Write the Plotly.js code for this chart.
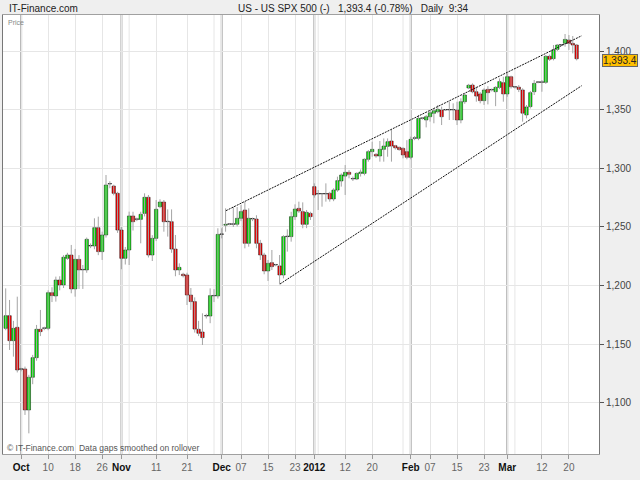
<!DOCTYPE html>
<html>
<head>
<meta charset="utf-8">
<script src="https://cdn.plot.ly/plotly-3.0.1.min.js"></script>
<style>
  html, body { margin: 0; padding: 0; background: #efefef; }
  #chart { width: 640px; height: 480px; }
</style>
</head>
<body>
<div id="chart"></div>
<script>
// Daily bars (Sep 27 2011 .. Mar 22 2012, incl. short Sunday sessions)
const openP = [
1163.6,1174.4,1153.1,1164.5,1128.7,1129.0,1094.0,1121.9,1138.6,1162.8,
1163.6,1163.6,1194.0,1191.2,1204.8,1200.6,1223.3,1226.1,1197.2,1222.4,
1213.4,1213.4,1233.8,1233.8,1249.4,1229.0,1243.2,1286.6,1284.9,1278.7,
1247.4,1223.3,1230.4,1259.4,1256.5,1256.5,1261.6,1275.3,1226.1,1240.3,
1267.3,1271.3,1254.5,1254.5,1231.2,1213.4,1209.7,1209.1,1192.0,1186.4,
1162.8,1160.5,1174.1,1174.1,1191.2,1191.2,1243.7,1251.5,1252.3,1252.3,
1252.3,1257.4,1264.5,1236.1,1256.8,1256.8,1236.1,1226.1,1212.5,1219.6,
1217.6,1216.8,1209.1,1241.8,1241.8,1258.8,1265.9,1263.1,1252.3,1261.6,
1284.4,1278.1,1278.1,1278.1,1278.7,1273.9,1281.5,1289.2,1293.4,1296.6,
1290.9,1290.9,1295.7,1295.7,1307.7,1314.2,1311.9,1310.5,1316.2,1318.7,
1323.3,1319.3,1317.9,1317.0,1314.2,1309.4,1325.6,1325.6,1342.6,1341.2,
1344.0,1346.9,1348.3,1349.7,1349.7,1349.7,1349.7,1349.7,1341.2,1356.8,
1368.5,1371.0,1365.3,1363.4,1357.7,1367.3,1366.8,1365.3,1369.0,1373.0,
1363.4,1378.1,1369.2,1369.2,1366.8,1345.5,1352.6,1365.3,1373.3,1373.3,
1373.3,1395.5,1393.5,1401.4,1405.1,1406.5,1409.4,1406.5,1405.1
];
const highP = [
1197.7,1187.8,1170.0,1190.6,1130.0,1131.0,1124.0,1141.0,1166.5,1179.3,
1165.0,1196.0,1198.6,1207.7,1208.0,1226.0,1228.0,1234.7,1231.3,1226.0,
1217.6,1241.0,1236.0,1257.4,1258.8,1246.0,1294.3,1289.0,1286.0,1280.0,
1250.0,1233.0,1263.1,1263.0,1258.0,1263.0,1278.7,1277.3,1243.0,1273.0,
1273.6,1273.0,1265.0,1265.0,1243.2,1219.0,1211.0,1211.0,1198.0,1190.0,
1170.0,1176.4,1176.0,1197.7,1197.0,1248.9,1248.9,1265.9,1253.0,1267.3,
1267.0,1268.7,1271.6,1265.9,1258.0,1260.0,1239.0,1228.0,1221.9,1230.4,
1218.5,1226.1,1243.0,1248.0,1263.0,1269.3,1271.6,1271.0,1264.5,1263.0,
1287.2,1281.5,1278.8,1287.2,1280.0,1283.0,1292.9,1295.7,1302.8,1298.5,
1293.0,1296.6,1299.0,1308.5,1315.6,1322.7,1313.0,1323.3,1325.5,1325.5,
1332.7,1320.0,1318.5,1318.0,1324.0,1327.0,1327.5,1345.5,1343.5,1345.5,
1349.7,1351.1,1354.0,1352.6,1350.5,1356.8,1355.4,1356.8,1359.7,1363.5,
1372.0,1372.4,1369.6,1365.0,1368.2,1370.0,1368.0,1370.0,1376.7,1378.1,
1381.0,1379.0,1370.0,1371.0,1368.2,1354.0,1366.0,1375.3,1374.0,1375.3,
1396.5,1397.0,1405.1,1406.0,1406.0,1414.5,1413.6,1412.8,1406.0
];
const lowP = [
1162.0,1145.2,1139.5,1126.0,1127.0,1089.8,1074.1,1116.0,1136.0,1157.0,
1162.0,1162.0,1186.0,1186.4,1196.0,1198.0,1222.0,1193.5,1190.6,1197.2,
1197.2,1211.0,1232.0,1231.0,1226.0,1221.9,1241.0,1283.0,1277.0,1245.0,
1214.0,1218.0,1217.6,1247.0,1255.0,1236.1,1259.0,1224.0,1221.0,1238.0,
1266.0,1246.0,1241.8,1228.0,1208.0,1209.0,1207.0,1183.5,1179.3,1160.0,
1157.0,1149.4,1172.0,1168.0,1186.0,1189.0,1240.3,1246.0,1251.5,1250.0,
1250.5,1255.0,1231.8,1233.2,1255.0,1231.8,1221.9,1209.7,1204.0,1213.3,
1216.5,1201.1,1206.2,1229.0,1237.5,1256.0,1262.0,1248.9,1249.0,1256.0,
1275.0,1264.5,1267.3,1271.6,1271.6,1272.0,1280.0,1284.4,1277.3,1291.5,
1289.2,1290.0,1293.0,1294.0,1305.7,1309.9,1309.0,1305.7,1305.7,1309.9,
1305.7,1316.0,1315.0,1308.5,1307.7,1307.7,1324.0,1324.0,1341.5,1334.9,
1339.8,1338.4,1347.0,1336.9,1349.0,1341.2,1341.2,1336.9,1338.4,1355.0,
1367.5,1364.0,1356.8,1355.4,1354.0,1354.5,1365.5,1353.0,1367.5,1356.8,
1361.0,1368.0,1368.0,1365.0,1339.8,1342.6,1351.0,1362.5,1372.5,1365.3,
1372.0,1391.5,1392.0,1400.0,1404.5,1403.7,1400.9,1398.0,1392.0
];
const closeP = [
1174.4,1153.1,1163.6,1128.1,1128.7,1094.0,1121.9,1138.6,1162.8,1160.8,
1163.6,1194.0,1191.5,1204.8,1200.6,1224.2,1226.1,1197.2,1222.4,1213.4,
1213.4,1239.5,1233.8,1249.4,1229.0,1243.2,1285.8,1286.6,1278.7,1247.4,
1223.3,1230.4,1259.4,1254.5,1256.5,1260.8,1275.3,1226.1,1240.3,1265.1,
1271.3,1254.5,1254.5,1231.2,1213.4,1215.6,1208.5,1192.0,1186.4,1163.0,
1159.4,1155.7,1174.1,1191.5,1191.2,1243.7,1243.7,1252.3,1252.3,1252.3,
1257.4,1263.1,1236.1,1257.4,1256.8,1236.1,1226.1,1212.5,1219.0,1216.2,
1217.6,1209.1,1241.8,1241.8,1258.8,1265.3,1263.6,1252.3,1262.5,1258.8,
1277.3,1278.1,1278.1,1278.1,1273.9,1281.5,1289.5,1294.3,1296.6,1294.9,
1290.9,1295.7,1296.8,1307.7,1314.2,1316.2,1310.5,1316.2,1319.0,1322.7,
1319.0,1317.5,1316.0,1311.4,1309.4,1324.7,1325.6,1342.6,1342.6,1344.0,
1347.4,1349.1,1350.3,1344.0,1349.7,1349.7,1349.7,1341.2,1356.8,1362.5,
1370.8,1365.3,1361.6,1357.7,1366.8,1364.5,1366.8,1369.0,1373.9,1363.4,
1378.1,1369.6,1369.2,1367.3,1347.0,1352.3,1364.5,1372.4,1373.3,1373.3,
1395.5,1393.0,1401.0,1405.1,1405.1,1409.9,1406.5,1405.1,1393.4
];

// x-axis labels (bar index of the labelled day)
const monthTickIdx  = [4, 30, 56, 80, 105, 130];
const monthTickText = ['Oct', 'Nov', 'Dec', '2012', 'Feb', 'Mar'];
const dayTickIdx    = [11, 18, 25, 39, 47, 61, 68, 75, 88, 95, 110, 117, 124, 139, 146];
const dayTickText   = ['10', '18', '26', '11', '21', '07', '15', '23', '12', '20', '07', '15', '23', '12', '20'];
const extraGridIdx  = [32, 54, 81, 103, 132];

// y-axis ticks
const yTickVals = [1100, 1150, 1200, 1250, 1300, 1350, 1400];
const yTickText = ['1,100', '1,150', '1,200', '1,250', '1,300', '1,350', '1,400'];

// channel trend lines (bar index, price)
const upperLineX = [57.1, 149.3];
const upperLineY = [1263.9, 1413.0];
const lowerLineX = [71.1, 149.3];
const lowerLineY = [1201.4, 1370.4];

const lastPrice = 1393.4;

// ---- build traces ----
const idx = openP.map((_, i) => i);
const wickX = [], wickY = [];
idx.forEach(i => { wickX.push(i, i, null); wickY.push(lowP[i], highP[i], null); });
const bodyBase = idx.map(i => Math.min(openP[i], closeP[i]));
// a flat (doji) body is still drawn as a thin black bar
const bodySize = idx.map(i => Math.max(Math.abs(closeP[i] - openP[i]), 0.45));
const bodyColor = idx.map(i => closeP[i] > openP[i] ? '#00f000' : (closeP[i] < openP[i] ? '#ff0000' : '#000000'));

const traces = [
  { type: 'scatter', mode: 'lines', x: wickX, y: wickY,
    line: { color: '#a4a4a4', width: 1 }, hoverinfo: 'skip', showlegend: false },
  { type: 'bar', x: idx, y: bodySize, base: bodyBase, width: 0.88,
    marker: { color: bodyColor, line: { color: '#111111', width: 0.5 } },
    showlegend: false, hoverinfo: 'skip' },
  { type: 'scatter', mode: 'lines', x: upperLineX, y: upperLineY,
    line: { color: '#111', width: 1, dash: '2px,1px' }, hoverinfo: 'skip', showlegend: false },
  { type: 'scatter', mode: 'lines', x: lowerLineX, y: lowerLineY,
    line: { color: '#111', width: 1, dash: '2px,1px' }, hoverinfo: 'skip', showlegend: false }
];

const tickVals = monthTickIdx.concat(dayTickIdx);
const tickText = monthTickText.map(t => '<b>' + t + '</b>')
  .concat(dayTickText.map(t => '<span style="color:#666">' + t + '</span>'));

const shapes = [];
monthTickIdx.forEach(v => shapes.push({ type: 'line', xref: 'x', yref: 'paper', x0: v, x1: v, y0: 0, y1: 1,
  line: { color: '#b0b0b0', width: 2 }, layer: 'between' }));
extraGridIdx.forEach(v => shapes.push({ type: 'line', xref: 'x', yref: 'paper', x0: v, x1: v, y0: 0, y1: 1,
  line: { color: '#e6e6e6', width: 1 }, layer: 'between' }));

const fontFam = '"Liberation Sans", Arial, sans-serif';

const layout = {
  width: 640, height: 480,
  margin: { l: 3, r: 41, t: 15, b: 26, pad: 0 },
  paper_bgcolor: '#efefef',
  plot_bgcolor: '#ffffff',
  font: { family: fontFam, size: 10, color: '#333' },
  showlegend: false,
  hovermode: false,
  barmode: 'overlay',
  xaxis: {
    type: 'linear', range: [-0.7, 153.8],
    tickmode: 'array', tickvals: tickVals, ticktext: tickText,
    ticks: 'outside', ticklen: 4, tickcolor: '#999', tickwidth: 1,
    tickfont: { family: fontFam, size: 10, color: '#111' },
    showgrid: true, gridcolor: '#e6e6e6', gridwidth: 1,
    showline: true, linecolor: '#a0a0a0', linewidth: 1, mirror: true,
    zeroline: false, fixedrange: true
  },
  yaxis: {
    side: 'right', range: [1056.5, 1430.7],
    tickmode: 'array', tickvals: yTickVals, ticktext: yTickText,
    ticks: 'outside', ticklen: 4, tickcolor: '#555', tickwidth: 1,
    tickfont: { family: fontFam, size: 10, color: '#444' },
    showgrid: true, gridcolor: '#e6e6e6', gridwidth: 1,
    showline: true, linecolor: '#777', linewidth: 1, mirror: true,
    zeroline: false, fixedrange: true
  },
  shapes: shapes,
  annotations: [
    { xref: 'paper', yref: 'paper', x: 0.0067, y: 1.0137, xanchor: 'left', yanchor: 'middle',
      text: 'IT-Finance.com', showarrow: false, font: { family: fontFam, size: 10, color: '#222' } },
    { xref: 'paper', yref: 'paper', x: 0.588, y: 1.0137, xanchor: 'center', yanchor: 'middle',
      text: 'US - US SPX 500 (-)&nbsp;&nbsp; 1,393.4 (-0.78%)&nbsp;&nbsp; Daily&nbsp; 9:34',
      showarrow: false, font: { family: fontFam, size: 10, color: '#222' } },
    { xref: 'paper', yref: 'paper', x: 0.005, y: 0.982, xanchor: 'left', yanchor: 'middle',
      text: 'Price', showarrow: false, font: { family: fontFam, size: 7, color: '#888' } },
    { xref: 'paper', yref: 'paper', x: 0.003, y: 0.0137, xanchor: 'left', yanchor: 'middle',
      text: '© IT-Finance.com&nbsp; Data gaps smoothed on rollover',
      showarrow: false, font: { family: fontFam, size: 8.5, color: '#555' } },
    { xref: 'paper', yref: 'y', x: 1, y: lastPrice, xanchor: 'left', yanchor: 'middle', xshift: 3, yshift: -2,
      text: '1,393.4', showarrow: false, bgcolor: '#ffbf00', bordercolor: '#666', borderwidth: 1, borderpad: 0,
      font: { family: fontFam, size: 10, color: '#222' } }
  ]
};

Plotly.newPlot('chart', traces, layout, { staticPlot: true, displayModeBar: false });
</script>
</body>
</html>
